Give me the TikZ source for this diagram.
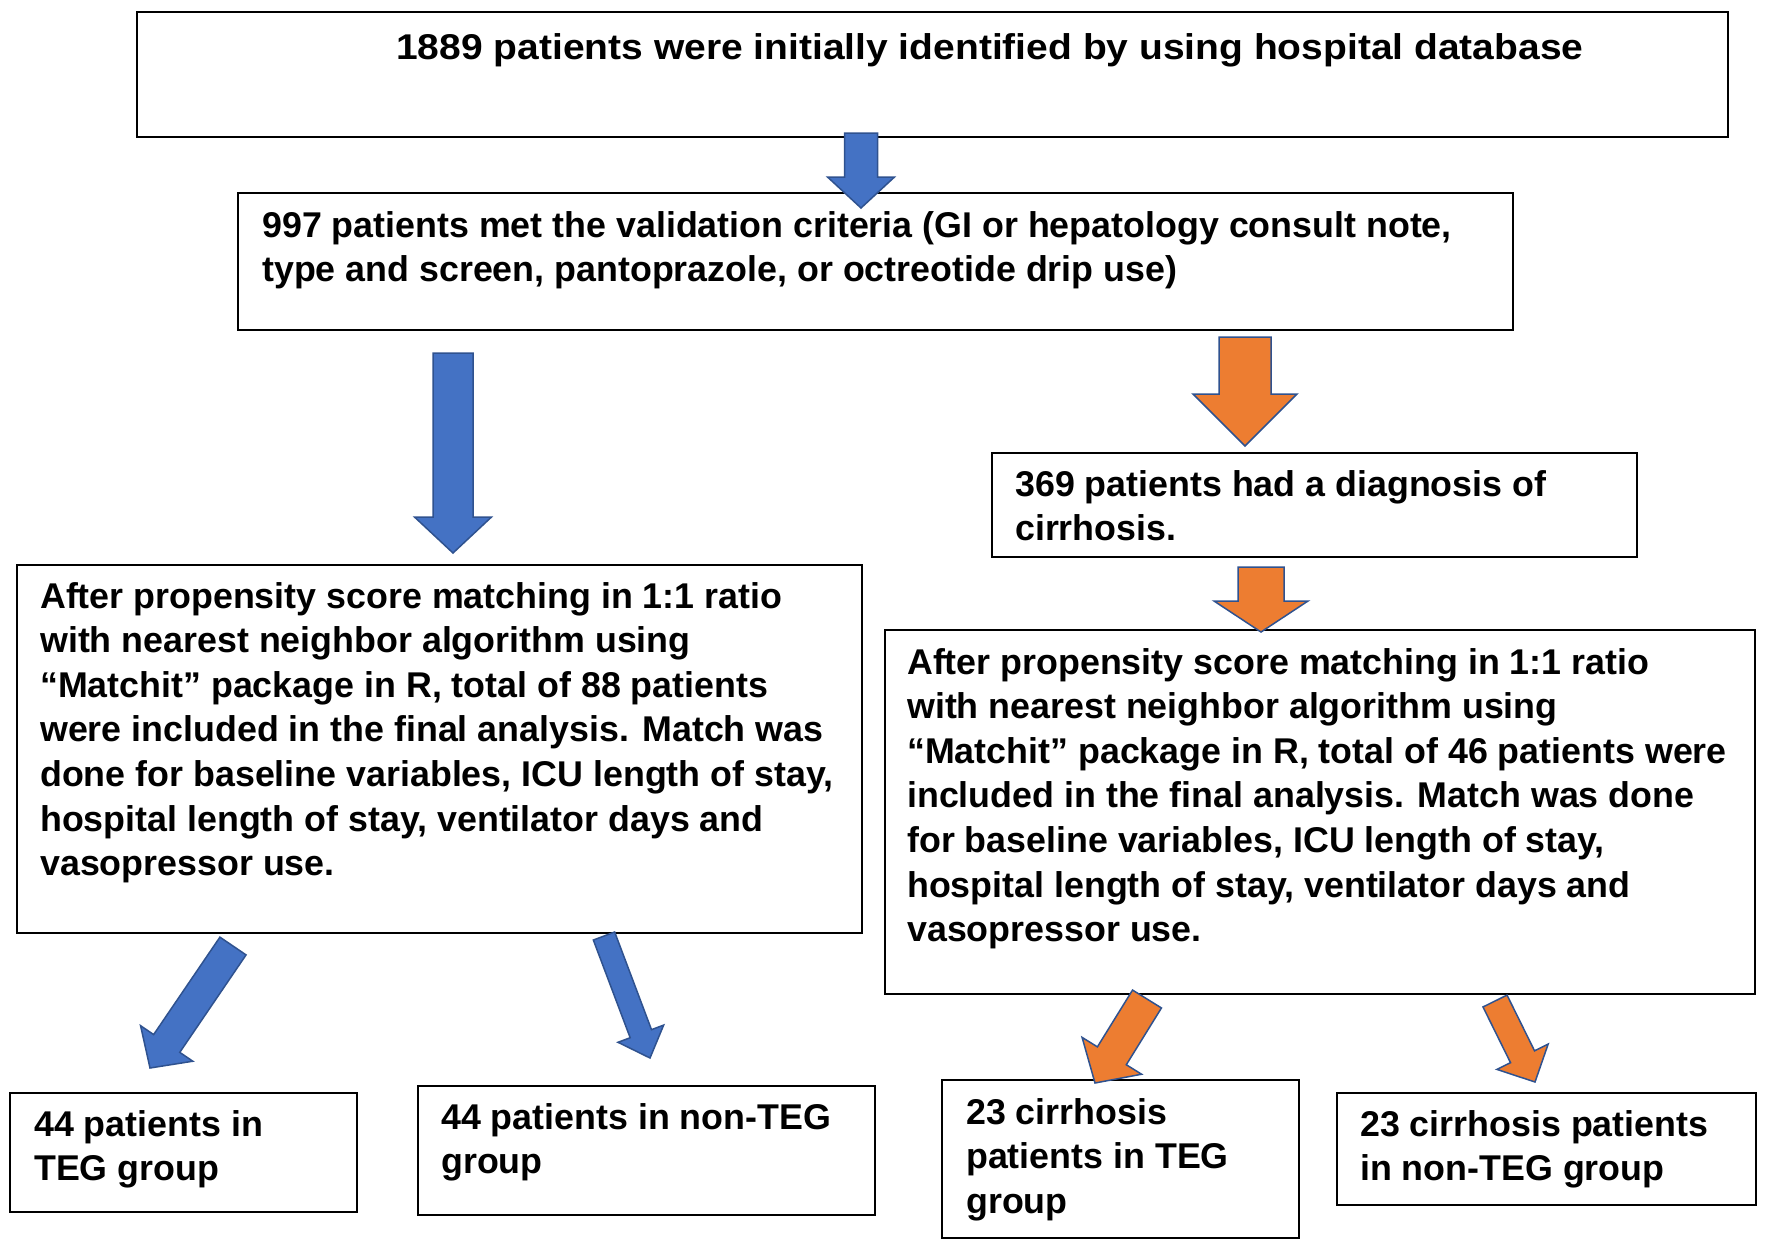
\documentclass[tikz,border=0pt]{standalone}
\usepackage{fontspec}
\setmainfont{Liberation Sans}
\usetikzlibrary{calc}

\definecolor{arrowblue}{HTML}{4472C4}
\definecolor{arrowedge}{HTML}{2F528F}
\definecolor{arroworange}{HTML}{ED7D31}

% block arrow: [style]{tail}{tip}{half shaft}{half head}{head length}
\newcommand{\blockarrow}[6][]{%
  \coordinate (hb) at ($(#3)!#6pt!(#2)$);
  \draw[#1] ($(#2)!#4pt!90:(#3)$) -- ($(hb)!#4pt!90:(#3)$) -- ($(hb)!#5pt!90:(#3)$) -- (#3)
    -- ($(hb)!#5pt!-90:(#3)$) -- ($(hb)!#4pt!-90:(#3)$) -- ($(#2)!#4pt!-90:(#3)$) -- cycle;
}

\begin{document}
\begin{tikzpicture}[
    x=1pt, y=-1pt,
    box/.style={rectangle, draw=black, line width=2pt, inner sep=0pt, anchor=north west},
    txt/.style={anchor=north west, align=left, inner sep=0pt, font={\fontsize{35.8}{44.6}\selectfont\bfseries}},
    bluearrow/.style={fill=arrowblue, draw=arrowedge, line width=1.5pt},
    orangearrow/.style={fill=arroworange, draw=arrowedge, line width=1.5pt}
]
\useasboundingbox (0,0) rectangle (1772,1254);

% Boxes
\node[box, minimum width=1591pt, minimum height=125pt] (start) at (136,11) {};
\node[box, minimum width=1275pt, minimum height=137pt] (criteria) at (237,192) {};
\node[box, minimum width=645pt, minimum height=104pt] (cirr) at (991,452) {};
\node[box, minimum width=845pt, minimum height=368pt] (matchL) at (16,564) {};
\node[box, minimum width=870pt, minimum height=364pt] (matchR) at (884,629) {};
\node[box, minimum width=347pt, minimum height=119pt] (tegL) at (9,1092) {};
\node[box, minimum width=457pt, minimum height=129pt] (nonL) at (417,1085) {};
\node[box, minimum width=357pt, minimum height=158pt] (tegR) at (941,1079) {};
\node[box, minimum width=419pt, minimum height=112pt] (nonR) at (1336,1092) {};

% Texts
\node[txt] (start-t) at (396,33) {\scalebox{1.089}[1]{1889 patients were initially identified by using hospital database}};
\node[txt] (criteria-t) at (262,211) {997 patients met the validation criteria (GI or hepatology consult note,\\type and screen, pantoprazole, or octreotide drip use)};
\node[txt] (cirr-t) at (1015,470) {369 patients had a diagnosis of\\cirrhosis.};
\node[txt] (matchL-t) at (40,582) {After propensity score matching in 1:1 ratio\\with nearest neighbor algorithm using\\“Matchit” package in R, total of 88 patients\\were included in the final analysis. Match was\\done for baseline variables, ICU length of stay,\\hospital length of stay, ventilator days and\\vasopressor use.};
\node[txt] (matchR-t) at (907,648) {After propensity score matching in 1:1 ratio\\with nearest neighbor algorithm using\\“Matchit” package in R, total of 46 patients were\\included in the final analysis. Match was done\\for baseline variables, ICU length of stay,\\hospital length of stay, ventilator days and\\vasopressor use.};
\node[txt] (tegL-t) at (34,1110) {44 patients in\\TEG group};
\node[txt] (nonL-t) at (441,1103) {44 patients in non-TEG\\group};
\node[txt] (tegR-t) at (966,1098) {23 cirrhosis\\patients in TEG\\group};
\node[txt] (nonR-t) at (1360,1110) {23 cirrhosis patients\\in non-TEG group};

% Arrow ends
\coordinate (a1s) at (861,133);  \coordinate (a1e) at (861,208);
\coordinate (a2s) at (453,353);  \coordinate (a2e) at (453,553);
\coordinate (a3s) at (1245,337); \coordinate (a3e) at (1245,446);
\coordinate (a4s) at (1261,567); \coordinate (a4e) at (1261,632);
\coordinate (a5s) at (233,946);  \coordinate (a5e) at (150,1068);
\coordinate (a6s) at (604,936);  \coordinate (a6e) at (650,1058);
\coordinate (a7s) at (1147,999); \coordinate (a7e) at (1095,1083);
\coordinate (a8s) at (1495,1001); \coordinate (a8e) at (1535,1082);

% Blue arrows
\blockarrow[bluearrow]{a1s}{a1e}{16.5}{33.5}{31}
\blockarrow[bluearrow]{a2s}{a2e}{20}{38.5}{36}
\blockarrow[bluearrow]{a5s}{a5e}{15.8}{31.6}{29.7}
\blockarrow[bluearrow]{a6s}{a6e}{11.4}{24.4}{26}

% Orange arrows
\blockarrow[orangearrow]{a3s}{a3e}{26}{52}{52}
\blockarrow[orangearrow]{a4s}{a4e}{23}{47}{31}
\blockarrow[orangearrow]{a7s}{a7e}{17}{35}{32}
\blockarrow[orangearrow]{a8s}{a8e}{13.4}{28.6}{28.2}

\end{tikzpicture}
\end{document}
